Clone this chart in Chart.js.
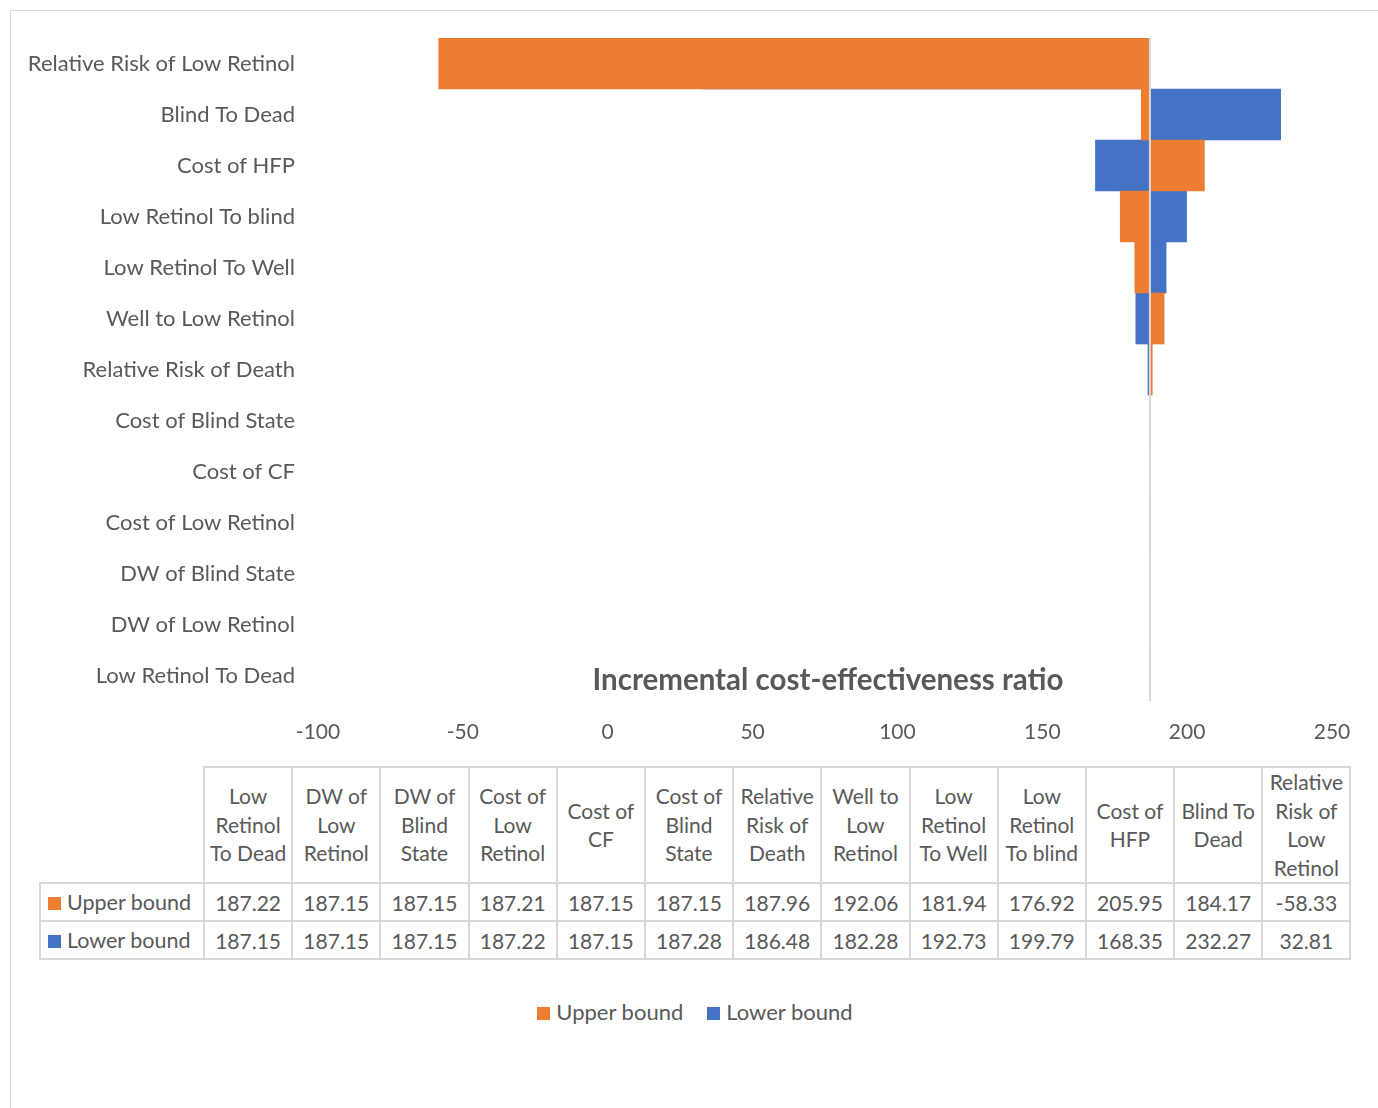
<!DOCTYPE html>
<html>
<head>
<meta charset="utf-8">
<title>Tornado chart - ICER</title>
<script src="https://cdn.jsdelivr.net/npm/chart.js@4.4.1/dist/chart.umd.min.js"></script>
<style>
    body { margin: 0; background: #fff; font-family: Lato, sans-serif; color: #595959; }
    #frame { position: absolute; left: 10px; top: 10px; width: 1400px; height: 1200px; border: 1px solid #d9d9d9; }
    #chartBox { position: absolute; left: 0; top: 0; width: 1378px; height: 760px; }
    #dataTable { position: absolute; left: 39px; top: 766px; border-collapse: collapse; table-layout: fixed; font-size: 21px; color: #595959; }
    #dataTable td, #dataTable th { border: 2px solid #d9d9d9; text-align: center; font-weight: normal; padding: 0 1px; }
    #dataTable th { height: 113px; line-height: 28.5px; }
    #dataTable td { height: 36px; }
    #dataTable th.corner { border-top: none; border-left: none; }
    #dataTable td.rowhead { text-align: left; padding-left: 7px; white-space: nowrap; font-size: 21.5px; }
    .key { display: inline-block; width: 13px; height: 13px; margin-right: 6px; }
    #legend { position: absolute; top: 998px; left: 0; width: 1390px; text-align: center; font-size: 22px; }
    #legend span.item { margin: 0 12px; }
</style>
</head>
<body>
<div id="frame"></div>
<div id="chartBox"><canvas id="tornado"></canvas></div>
<table id="dataTable"></table>
<div id="legend"></div>

<script>
// Categories in the order of the data table (Excel puts the first one at the bottom)
const categories = [
    'Low Retinol To Dead', 'DW of Low Retinol', 'DW of Blind State', 'Cost of Low Retinol',
    'Cost of CF', 'Cost of Blind State', 'Relative Risk of Death', 'Well to Low Retinol',
    'Low Retinol To Well', 'Low Retinol To blind', 'Cost of HFP', 'Blind To Dead',
    'Relative Risk of Low Retinol'
];
const upperBound = [187.22, 187.15, 187.15, 187.21, 187.15, 187.15, 187.96, 192.06, 181.94, 176.92, 205.95, 184.17, -58.33];
const lowerBound = [187.15, 187.15, 187.15, 187.22, 187.15, 187.28, 186.48, 182.28, 192.73, 199.79, 168.35, 232.27, 32.81];
const baseIcer = 187.15;
const xTicks = [-100, -50, 0, 50, 100, 150, 200, 250];

const seriesNames = ['Upper bound', 'Lower bound'];
const seriesColors = ['#ED7D31', '#4472C4'];
const seriesValues = [upperBound, lowerBound];
const textColor = '#595959';
const fontFamily = 'Lato, sans-serif';
const axisTitle = 'Incremental cost-effectiveness ratio';

// Vertical line at the base case and the axis title (Excel draws it above the tick labels)
const baseLinePlugin = {
    id: 'baseLine',
    afterDatasetsDraw(chart) {
        const ctx = chart.ctx;
        const x = chart.scales.x.getPixelForValue(baseIcer);
        const area = chart.chartArea;
        ctx.save();
        ctx.strokeStyle = '#d9d9d9';
        ctx.lineWidth = 2;
        ctx.beginPath();
        ctx.moveTo(x, area.top);
        ctx.lineTo(x, area.bottom);
        ctx.stroke();

        ctx.fillStyle = textColor;
        ctx.font = 'bold 29.5px ' + fontFamily;
        ctx.textAlign = 'center';
        ctx.textBaseline = 'middle';
        ctx.fillText(axisTitle, (area.left + area.right) / 2 + 3, area.bottom - 21);
        ctx.restore();
    }
};

const tornadoChart = new Chart(document.getElementById('tornado').getContext('2d'), {
    type: 'bar',
    data: {
        labels: categories,
        datasets: seriesNames.map((name, i) => ({
            label: name,
            data: seriesValues[i].map(v => [baseIcer, v]),
            backgroundColor: seriesColors[i],
            borderWidth: 0,
            barPercentage: 1,
            categoryPercentage: 1
        }))
    },
    options: {
        indexAxis: 'y',
        responsive: true,
        maintainAspectRatio: false,
        animation: false,
        layout: { padding: { left: 0, right: 46, top: 38, bottom: 9 } },
        plugins: {
            legend: { display: false },
            tooltip: { enabled: false }
        },
        scales: {
            y: {
                stacked: true,
                reverse: true,
                grid: { display: false, drawTicks: false },
                border: { display: false },
                ticks: { color: textColor, font: { family: fontFamily, size: 22 }, padding: 23 },
                afterFit(scale) { scale.width = 318; }
            },
            x: {
                stacked: false,
                min: xTicks[0],
                max: xTicks[xTicks.length - 1],
                grid: { display: false, drawTicks: false },
                border: { display: false },
                ticks: {
                    stepSize: xTicks[1] - xTicks[0],
                    color: textColor,
                    font: { family: fontFamily, size: 21 },
                    padding: 19
                },
                afterFit(scale) { scale.height = 50; }
            }
        }
    },
    plugins: [baseLinePlugin]
});

// Data table under the chart
const table = document.getElementById('dataTable');
let html = '<colgroup><col style="width:164px">' + categories.map(() => '<col style="width:88.2px">').join('') + '</colgroup>';
html += '<tr><th class="corner"></th>' + categories.map(c => '<th>' + c + '</th>').join('') + '</tr>';
seriesNames.forEach((name, i) => {
    html += '<tr><td class="rowhead"><span class="key" style="background:' + seriesColors[i] + '"></span>' + name + '</td>';
    html += seriesValues[i].map(v => '<td>' + v.toFixed(2) + '</td>').join('') + '</tr>';
});
table.innerHTML = html;

// Legend below the table
document.getElementById('legend').innerHTML = seriesNames.map((name, i) =>
    '<span class="item"><span class="key" style="background:' + seriesColors[i] + '"></span>' + name + '</span>'
).join('');
</script>
</body>
</html>
